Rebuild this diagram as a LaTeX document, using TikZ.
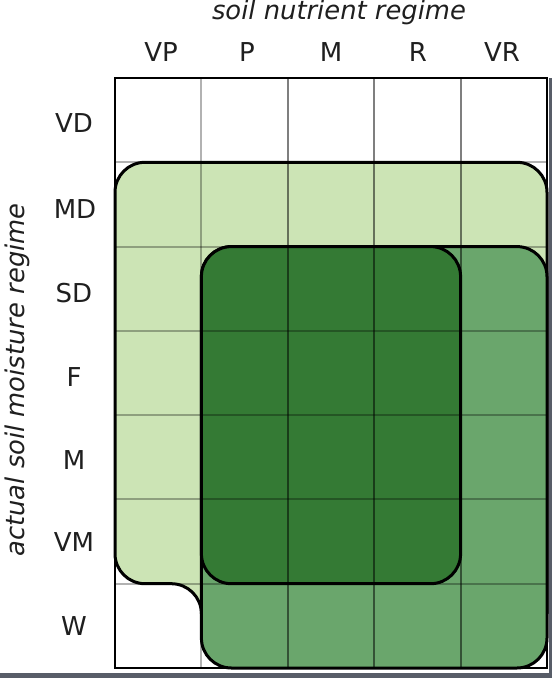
\documentclass[tikz,border=0pt]{standalone}
\usepackage{fontspec}
\setmainfont{DejaVu Sans}
\definecolor{lightg}{RGB}{204,228,181}
\definecolor{medg}{RGB}{106,166,108}
\definecolor{darkg}{RGB}{52,122,52}
\definecolor{barg}{RGB}{88,93,104}
\begin{document}
\begin{tikzpicture}[x=1pt,y=1pt,yscale=-1,
  lab/.style={font=\fontsize{26}{30}\selectfont, text=black!88, inner sep=0pt},
  title/.style={font=\fontsize{25.8}{30}\selectfont\itshape, text=black!88, inner sep=0pt},
  outl/.style={draw=black, line width=3pt, line join=round},
  gridlight/.style={draw=black, opacity=0.3, line width=2pt},
  griddark/.style={draw=black, opacity=0.5, line width=2pt}]
\useasboundingbox (0,0) rectangle (552,678);
\fill[white] (0,0) rectangle (552,678);

% light green region
\filldraw[fill=lightg, outl] (145,162.3) -- (517,162.3)
  arc[start angle=-90,end angle=0,radius=30] -- (547,613.7) -- (201.4,613.7)
  arc[start angle=0,end angle=-90,radius=30] -- (145,583.7)
  arc[start angle=90,end angle=180,radius=30] -- (115,192.3)
  arc[start angle=180,end angle=270,radius=30] -- cycle;
% medium green region
\filldraw[fill=medg, outl, rounded corners=30pt] (201.4,246.6) rectangle (547,668);
% dark green region
\filldraw[fill=darkg, outl, rounded corners=30pt] (201.4,246.6) rectangle (460.6,583.7);

% grid lines
\foreach \y in {162.3,246.6,330.9,415.1,499.4,583.7}
  \draw[gridlight] (115,\y) -- (547,\y);
\draw[gridlight] (201.4,78) -- (201.4,668);
\foreach \x in {287.8,374.2,460.6}
  \draw[griddark] (\x,78) -- (\x,668);

% frame
\draw[line width=2.6pt] (115,78) rectangle (547,668);
\fill[barg] (548.5,78) rectangle (552,678);
\fill[barg] (0,672.5) rectangle (552,678);

% titles
\node[title, anchor=base] (ttop) at (339,19) {soil nutrient regime};
\node[title, anchor=base, rotate=90] (tleft) at (24,380) {actual soil moisture regime};

% column labels
\node[lab] (cVP) at (161,52.5) {VP};
\node[lab] (cP) at (247,52.5) {P};
\node[lab] (cM) at (331,52.5) {M};
\node[lab] (cR) at (418,52.5) {R};
\node[lab] (cVR) at (502,52.5) {VR};

% row labels
\node[lab] (rVD) at (74,123) {VD};
\node[lab] (rMD) at (75,209) {MD};
\node[lab] (rSD) at (74,293) {SD};
\node[lab] (rF) at (74,377.5) {F};
\node[lab] (rM) at (74,460) {M};
\node[lab] (rVM) at (74,542) {VM};
\node[lab] (rW) at (74,626) {W};
\end{tikzpicture}
\end{document}
